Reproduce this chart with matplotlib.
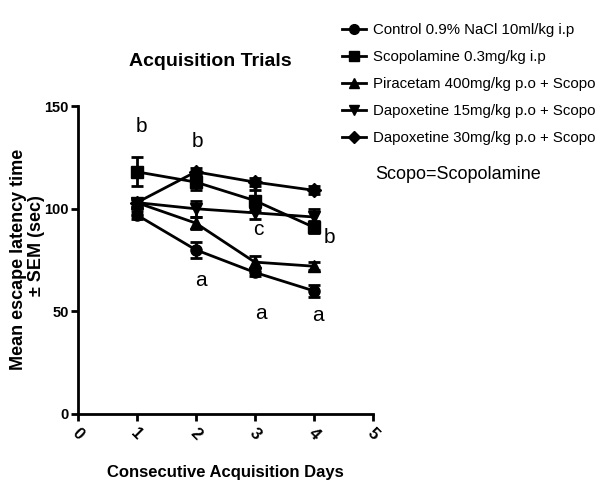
import matplotlib
matplotlib.use("Agg")
import matplotlib.pyplot as plt
from matplotlib.lines import Line2D

# data
days = [1, 2, 3, 4]
labels = [
    "Control 0.9% NaCl 10ml/kg i.p",
    "Scopolamine 0.3mg/kg i.p",
    "Piracetam 400mg/kg p.o + Scopo",
    "Dapoxetine 15mg/kg p.o + Scopo",
    "Dapoxetine 30mg/kg p.o + Scopo",
]
markers = ["o", "s", "^", "v", "D"]
control = [97, 80, 69, 60]
scopolamine = [118, 113, 104, 91]
piracetam = [103, 93, 74, 72]
dapox15 = [103, 100, 98, 96]
dapox30 = [103, 118, 113, 109]
control_sem = [2, 4, 2, 3]
scopolamine_sem = [7, 4, 5, 3]
piracetam_sem = [2, 3, 3, 2]
dapox15_sem = [2, 4, 3, 4]
dapox30_sem = [2, 2, 2, 2]

# significance letters (x, y) in data units
sig_letters = ["b", "b", "c", "b", "a", "a", "a"]
sig_x = [1.08, 2.03, 3.06, 4.27, 2.08, 3.1, 4.07]
sig_y = [140, 133, 90, 86, 65, 49, 48]

plt.rcParams["font.family"] = ["Liberation Sans", "DejaVu Sans"]

fig = plt.figure(figsize=(6.13, 4.87), dpi=100)
ax = fig.add_axes([0.127, 0.150, 0.481, 0.632])

series = [control, scopolamine, piracetam, dapox15, dapox30]
sems = [control_sem, scopolamine_sem, piracetam_sem, dapox15_sem, dapox30_sem]
handles = []
for vals, err, mk, lab in zip(series, sems, markers, labels):
    ms = 7 if mk == "D" else 8
    ax.errorbar(days, vals, yerr=err, color="black", marker=mk, markersize=ms,
                lw=2, elinewidth=2, capsize=4, capthick=2)
    handles.append(Line2D([], [], color="black", marker=mk, markersize=ms - 1,
                          lw=2, label=lab))

for t, x, y in zip(sig_letters, sig_x, sig_y):
    ax.text(x, y, t, fontsize=15, ha="center", va="center")

ax.set_xlim(0, 5)
ax.set_ylim(0, 150)
ax.set_xticks([0, 1, 2, 3, 4, 5])
ax.set_yticks([0, 50, 100, 150])
ax.spines["top"].set_visible(False)
ax.spines["right"].set_visible(False)
ax.spines["left"].set_linewidth(2)
ax.spines["bottom"].set_linewidth(2)
ax.tick_params(width=2, length=5)
ax.tick_params(axis="y", pad=1.5)
for lab in ax.get_xticklabels():
    lab.set_rotation(-45)
    lab.set_fontweight("bold")
    lab.set_fontsize(12)
    lab.set_ha("center")
for lab in ax.get_yticklabels():
    lab.set_fontweight("bold")
    lab.set_fontsize(10.5)

fig.text(0.343, 0.873, "Acquisition Trials", fontsize=14, fontweight="bold",
         ha="center", va="center")
ax.set_xlabel("Consecutive Acquisition Days", fontsize=12, fontweight="bold", labelpad=16)
fig.text(0.030, 0.468, "Mean escape latency time", rotation=90, fontsize=13,
         fontweight="bold", ha="center", va="center")
fig.text(0.059, 0.495, "\u00b1 SEM (sec)", rotation=90, fontsize=13,
         fontweight="bold", ha="center", va="center")

fig.legend(handles=handles, loc="upper left", bbox_to_anchor=(0.558, 0.952),
           frameon=False, fontsize=10.8, handlelength=1.6, handletextpad=0.45,
           labelspacing=0.86, borderaxespad=0, borderpad=0)
fig.text(0.612, 0.641, "Scopo=Scopolamine", fontsize=13, ha="left", va="center")

fig.savefig("out.png", dpi=100)
